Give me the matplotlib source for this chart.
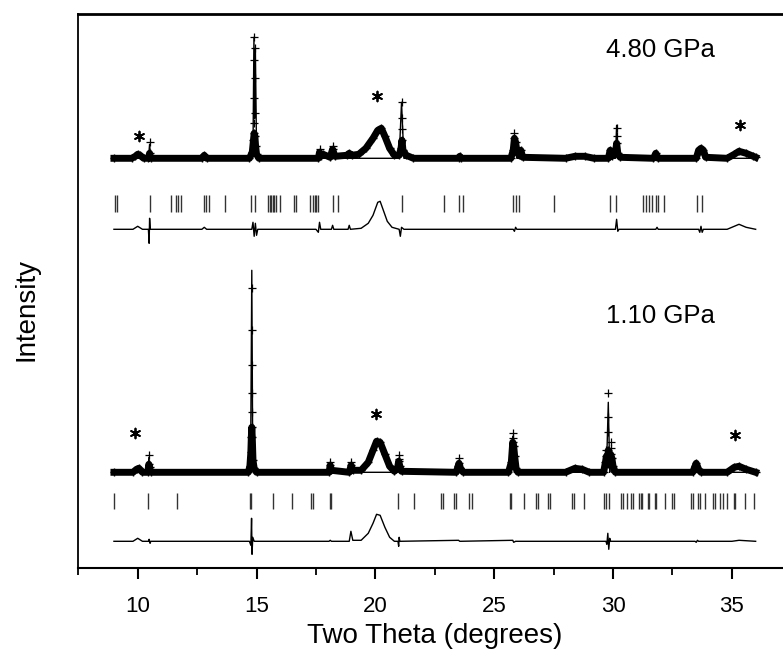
import matplotlib
matplotlib.use("Agg")
import matplotlib.pyplot as plt
from matplotlib.ticker import MultipleLocator

plt.rcParams['font.family'] = ['Liberation Sans', 'DejaVu Sans']

# ---------------- data (two-theta in degrees, intensity in arbitrary units) -------------
# 4.80 GPa : observed profile, dense part (height above background)
top_obs_x = [9.0, 9.75, 9.9, 10.0, 10.1, 10.25, 10.45, 10.5, 10.55, 12.7, 12.8, 12.9,
             14.7, 14.82, 14.87, 14.9, 14.93, 14.96, 15.0, 15.1, 17.6, 17.65, 17.7, 17.8,
             18.1, 18.2, 18.3, 18.8, 18.9, 19.0, 19.3, 19.6, 19.9, 20.1, 20.25, 20.4, 20.6,
             20.8, 21.0, 21.08, 21.12, 21.16, 21.3, 21.6, 23.5, 23.55, 23.6, 25.7, 25.8,
             25.85, 25.9, 25.95, 26.05, 26.12, 26.2, 28.0, 28.4, 28.8, 29.2, 29.8, 29.88,
             29.95, 30.1, 30.15, 30.2, 30.3, 31.7, 31.8, 31.9, 33.5, 33.6, 33.7, 33.8, 33.9,
             34.8, 35.1, 35.3, 35.6, 35.9, 36.0]
top_obs_y = [0, 0, 2, 4, 3, 0, 0, 5, 0, 0, 3, 0,
             0, 6, 18, 25, 22, 12, 4, 0, 0, 6, 2, 4,
             1, 9, 2, 3, 5, 3, 4, 10, 20, 28, 30, 22, 10,
             3, 3, 10, 18, 8, 3, 0, 0, 2, 0, 0, 8,
             20, 16, 8, 3, 8, 1, 0, 2, 2, 0, 0, 8,
             2, 5, 15, 5, 1, 0, 5, 0, 0, 8, 10, 8, 1,
             0, 4, 7, 5, 2, 1]
# 4.80 GPa : isolated observed points on the sharp peaks
top_pk_x = [10.5, 14.88, 14.88, 14.88, 14.88, 14.95, 14.95, 14.95, 21.12, 21.12, 21.12,
            25.85, 30.15, 30.15, 18.2, 17.65]
top_pk_y = [16, 121, 98, 60, 35, 110, 80, 45, 56, 40, 29,
            25, 22, 30, 12, 9]
# 4.80 GPa : calculated profile
top_calc_x = [9.0, 10.45, 10.5, 10.55, 14.75, 14.85, 14.89, 14.92, 14.95, 15.0, 15.1,
              17.6, 17.65, 17.7, 18.15, 18.2, 18.25, 21.0, 21.1, 21.2, 25.75, 25.85,
              25.95, 30.1, 30.15, 30.2, 33.6, 33.7, 33.8, 36.0]
top_calc_y = [0, 0, 14, 0, 0, 8, 121, 40, 110, 8, 0,
              0, 3, 0, 0, 8, 0, 0, 56, 0, 0, 20,
              0, 0, 33, 0, 0, 6, 0, 0]
# 4.80 GPa : difference curve
top_diff_x = [9.0, 9.8, 10.0, 10.2, 10.45, 10.48, 10.5, 10.53, 12.7, 12.8, 12.9, 14.8,
              14.85, 14.9, 14.95, 15.0, 15.05, 17.5, 17.6, 17.65, 17.7, 18.15, 18.2, 18.25,
              18.85, 18.9, 18.95, 19.4, 19.7, 19.9, 20.1, 20.2, 20.35, 20.5, 20.7, 21.0,
              21.05, 21.1, 21.2, 25.8, 25.85, 25.9, 25.95, 30.1, 30.15, 30.2, 30.25, 31.8,
              31.85, 31.9, 33.6, 33.65, 33.7, 33.75, 33.8, 34.8, 35.3, 35.6, 36.0]
top_diff_y = [0, 0, 3, 0, 0, -14, 11, 0, 0, 2, 0, 0,
              7, -7, 6, -6, 0, 0, -3, 7, 0, 0, 4, 0,
              0, 4, 0, 1, 6, 14, 27, 28, 18, 8, 2, 0,
              -7, 2, 0, 0, -2, 2, 0, 0, 10, -2, 0, 0,
              2, 0, 0, -3, 3, -3, 0, 0, 5, 2, 0]
# 4.80 GPa : reflection positions
top_refl = [9.03, 9.14, 10.50, 11.42, 11.63, 11.69, 11.81, 12.79, 12.89, 12.98, 13.66,
            14.78, 14.94, 15.47, 15.55, 15.62, 15.68, 15.74, 15.80, 15.97, 16.57, 16.67,
            17.23, 17.37, 17.44, 17.51, 17.58, 18.21, 18.42, 21.11, 22.90, 23.53, 23.67,
            25.77, 25.91, 26.05, 27.52, 29.86, 30.14, 31.26, 31.37, 31.51, 31.65, 31.79,
            31.90, 32.14, 33.54, 33.75]

# 1.10 GPa : observed profile, dense part
bot_obs_x = [9.0, 9.8, 9.95, 10.05, 10.2, 10.42, 10.47, 10.5, 10.55, 14.65, 14.72, 14.76,
             14.78, 14.8, 14.82, 14.85, 14.9, 15.0, 18.05, 18.1, 18.15, 18.9, 18.98, 19.05,
             19.4, 19.7, 19.9, 20.05, 20.2, 20.4, 20.6, 20.8, 20.93, 20.98, 21.03, 21.1,
             23.4, 23.48, 23.52, 23.58, 23.7, 25.6, 25.72, 25.78, 25.82, 25.86, 25.92, 26.0,
             28.0, 28.4, 28.7, 29.0, 29.6, 29.68, 29.72, 29.77, 29.8, 29.85, 29.9, 29.95,
             30.0, 30.1, 33.35, 33.45, 33.5, 33.6, 33.7, 34.8, 35.1, 35.3, 35.6, 36.0]
bot_obs_y = [0, 0, 3, 4, 0, 0, 8, 5, 0, 0, 6, 20,
             35, 45, 35, 12, 4, 0, 0, 7, 2, 0, 7, 2,
             2, 10, 22, 31, 30, 18, 6, 1, 4, 11, 6, 1,
             0, 6, 9, 4, 0, 0, 10, 30, 26, 16, 4, 0,
             0, 4, 3, 0, 0, 10, 16, 8, 22, 14, 18, 14,
             6, 0, 0, 6, 9, 3, 0, 0, 5, 6, 3, 0]
# 1.10 GPa : isolated observed points on the sharp peaks
bot_pk_x = [10.47, 14.8, 14.8, 14.8, 14.8, 14.8, 18.1, 18.98, 20.98, 20.98, 23.52,
            25.78, 25.78, 29.7, 29.8, 29.8, 29.8, 29.9, 29.9]
bot_pk_y = [17, 184, 142, 107, 79, 60, 10, 10, 17, 13, 14,
            39, 34, 22, 79, 55, 40, 30, 24]
# 1.10 GPa : calculated profile
bot_calc_x = [9.0, 10.42, 10.47, 10.52, 14.7, 14.75, 14.8, 14.84, 14.9, 18.05, 18.1, 18.15,
              20.93, 20.98, 21.03, 23.45, 23.5, 23.55, 25.72, 25.78, 25.84, 29.72, 29.8,
              29.86, 29.9, 29.95, 33.45, 33.5, 33.55, 36.0]
bot_calc_y = [0, 0, 15, 0, 0, 10, 202, 10, 0, 0, 8, 0,
              0, 14, 0, 0, 12, 0, 0, 36, 0, 0, 70,
              0, 20, 0, 0, 8, 0, 0]
# 1.10 GPa : difference curve
bot_diff_x = [9.0, 9.8, 10.0, 10.2, 10.45, 10.48, 10.52, 10.55, 14.7, 14.76, 14.79, 14.81,
              14.84, 14.9, 18.05, 18.1, 18.15, 18.9, 18.97, 19.05, 19.4, 19.7, 19.9, 20.05,
              20.2, 20.4, 20.6, 20.8, 20.95, 20.98, 21.0, 21.03, 23.5, 23.55, 25.78, 25.82,
              25.9, 29.7, 29.74, 29.78, 29.82, 29.86, 29.9, 33.45, 33.5, 33.55, 33.6, 35.0,
              35.3, 36.0]
bot_diff_y = [0, 0, 3, 0, 0, 2, -2, 0, 0, -4, 23, -13,
              4, 0, 0, 1, 0, 0, 10, 1, 1, 8, 18, 27,
              26, 14, 4, 0, 0, -5, 4, 0, 1, 0, 1, -1,
              0, 0, -3, 8, -8, 3, 0, 0, -1, 1, 0, 0,
              1, 0]
# 1.10 GPa : reflection positions
bot_refl = [9.00, 10.43, 11.67, 14.71, 14.78, 15.71, 16.48, 17.31, 17.36, 18.07, 18.14,
            20.94, 21.61, 22.76, 22.86, 23.32, 23.39, 23.95, 24.06, 25.66, 25.71, 26.26,
            26.75, 26.86, 27.28, 27.34, 28.26, 28.36, 28.78, 29.62, 29.72, 29.83, 30.32,
            30.42, 30.60, 30.74, 30.84, 31.09, 31.16, 31.23, 31.48, 31.53, 31.76, 31.82,
            32.18, 32.47, 32.56, 33.30, 33.36, 33.57, 33.67, 33.87, 34.20, 34.29, 34.52,
            34.62, 34.80, 35.08, 35.15, 35.55, 35.92]

# impurity (*) peaks
top_star_x = [10.07, 20.07, 35.33]
bot_star_x = [9.9, 20.04, 35.12]
labels = ["4.80 GPa", "1.10 GPa"]
xticks = [10, 15, 20, 25, 30, 35]

# ---------------- layout constants ----------------
TOP_BASE, TOP_TICK, TOP_DIFF = 410, (356, 373), 339
BOT_BASE, BOT_TICK, BOT_DIFF = 96, (59, 75), 27
TOP_STAR_Y = [432, 472, 443]
BOT_STAR_Y = [135, 154, 133]

fig = plt.figure(figsize=(7.83, 6.56), dpi=100)
ax = fig.add_axes([78.3 / 783, 1 - 568.3 / 656, (791.3 - 78.3) / 783, (568.3 - 14) / 656])


def draw(obs_x, obs_y, pk_x, pk_y, calc_x, calc_y, diff_x, diff_y, refl, base, tick,
         dbase, star_x, star_y, label, label_y):
    ax.plot(obs_x, [v + base for v in obs_y], color='black', lw=5.0,
            marker='+', ms=6, mew=1.0, solid_joinstyle='round', zorder=2)
    ax.plot(pk_x, [v + base for v in pk_y], ls='none', color='black',
            marker='+', ms=6, mew=0.9, zorder=3)
    ax.plot(calc_x, [v + base for v in calc_y], color='black', lw=1.0, zorder=3)
    ax.vlines(refl, tick[0], tick[1], color='0.2', lw=1.0, zorder=2)
    ax.plot(diff_x, [v + dbase for v in diff_y], color='black', lw=1.0, zorder=2)
    ax.scatter(star_x, star_y, marker=(6, 2, 0), s=50, color='black', lw=1.3, zorder=4)
    ax.text(32.0, label_y, label, fontsize=18.5, ha='center', va='center')


draw(top_obs_x, top_obs_y, top_pk_x, top_pk_y, top_calc_x, top_calc_y, top_diff_x,
     top_diff_y, top_refl, TOP_BASE, TOP_TICK, TOP_DIFF, top_star_x, TOP_STAR_Y,
     labels[0], 518)
draw(bot_obs_x, bot_obs_y, bot_pk_x, bot_pk_y, bot_calc_x, bot_calc_y, bot_diff_x,
     bot_diff_y, bot_refl, BOT_BASE, BOT_TICK, BOT_DIFF, bot_star_x, BOT_STAR_Y,
     labels[1], 252)

ax.set_xlim(7.5, 37.5)
ax.set_ylim(0, 554.3)
ax.set_xticks(xticks)
ax.xaxis.set_minor_locator(MultipleLocator(2.5))
ax.set_yticks([])
ax.tick_params(axis='x', which='major', direction='out', length=8, width=1.5,
               labelsize=16, pad=12)
ax.tick_params(axis='x', which='minor', direction='out', length=5, width=1.3)
ax.spines['top'].set_linewidth(2.0)
ax.spines['left'].set_linewidth(1.3)
ax.spines['bottom'].set_linewidth(1.5)
ax.set_xlabel("Two Theta (degrees)", fontsize=20, labelpad=4)
ax.set_ylabel("Intensity", fontsize=20)
ax.yaxis.set_label_coords(-0.055, 0.466)

fig.savefig("out.png", dpi=100)
